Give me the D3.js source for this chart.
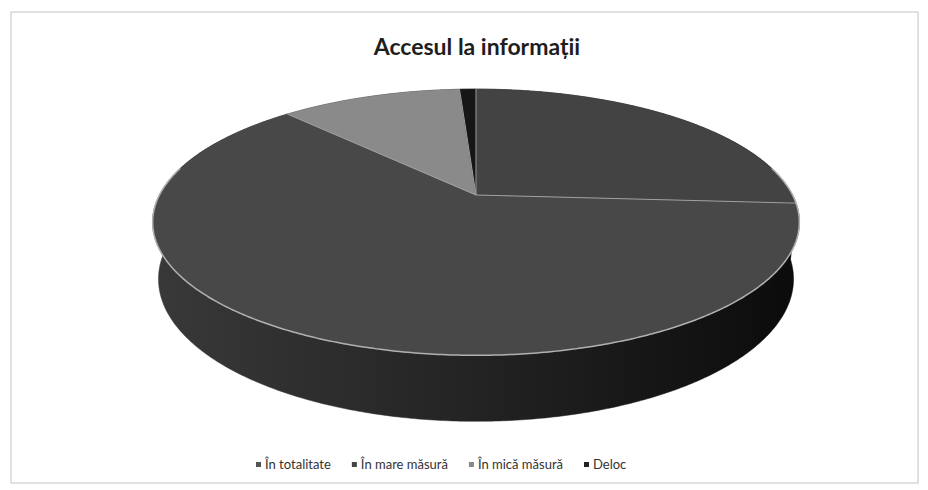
<!DOCTYPE html>
<html>
<head>
<meta charset="utf-8">
<script src="https://cdn.jsdelivr.net/npm/d3@7"></script>
<style>
body{margin:0;background:#fff;}
</style>
</head>
<body>
<div id="graf"></div>
<script>
// date (procente)
const categorii = ["În totalitate", "În mare măsură", "În mică măsură", "Deloc"];
const valori = [26, 62, 11, 1];
const titlu = "Accesul la informații";

// culori (scanare in tonuri de gri)
const culoriSus = ["#434343", "#484848", "#8a8a8a", "#161616"];
const culoriLegenda = ["#555", "#444", "#888", "#222"];

const W = 928, H = 490;
// parametri perspectiva pentru discul 3D
const CX = 476, CY = 195, F = 1418, DIST = 4.48, FI = Math.asin(0.403), GROS = 0.195;

function proiect(X, Y, Z) // proiecteaza un punct 3D pe ecran
{
   let s = Math.sin(FI), c = Math.cos(FI);
   let u = Y * c + Z * s;
   let w = DIST + Z * c - Y * s;
   return [CX + F * X / w, CY - F * u / w];
}

function punctArc(a, Y) // a = unghi in sensul acelor de ceas de la ora 12
{
   return proiect(Math.sin(a), Y, Math.cos(a));
}

function arcPuncte(a0, a1, Y)
{
   let n = Math.max(2, Math.ceil((a1 - a0) / 0.01));
   let pts = [];
   for (let i = 0; i <= n; i++) pts.push(punctArc(a0 + (a1 - a0) * i / n, Y));
   return pts;
}

const svg = d3.select("#graf").append("svg").attr("width", W).attr("height", H);

// chenarul graficului
svg.append("rect")
   .attr("x", 11).attr("y", 12)
   .attr("width", 907).attr("height", 471)
   .attr("fill", "none")
   .attr("stroke", "#c4c4c4")
   .attr("stroke-width", 1);

// titlu
svg.append("text")
   .attr("x", 477).attr("y", 55)
   .attr("text-anchor", "middle")
   .attr("font-family", "Lato, 'Open Sans', sans-serif")
   .attr("font-weight", "bold")
   .attr("font-size", 23)
   .attr("fill", "#1e1e1e")
   .text(titlu);

// gradient pentru peretele lateral
const grad = svg.append("defs").append("linearGradient")
   .attr("id", "lateral")
   .attr("gradientUnits", "userSpaceOnUse")
   .attr("x1", 150).attr("y1", 0).attr("x2", 802).attr("y2", 0);
grad.append("stop").attr("offset", 0).attr("stop-color", "#393939");
grad.append("stop").attr("offset", 0.5).attr("stop-color", "#232323");
grad.append("stop").attr("offset", 1).attr("stop-color", "#0b0b0b");

const pie = d3.pie().sort(null).value(d => d);
const felii = pie(valori);
const linie = d3.line();

// peretii laterali (desenati primii, fetele de sus ii acopera)
felii.forEach(function(d) {
   let sus = arcPuncte(d.startAngle, d.endAngle, 0);
   let jos = arcPuncte(d.startAngle, d.endAngle, -GROS).reverse();
   svg.append("path")
      .attr("d", linie(sus.concat(jos)) + "Z")
      .attr("fill", "url(#lateral)")
      .attr("stroke", "url(#lateral)")
      .attr("stroke-width", 0.5);
});

// fetele de sus
const centru = proiect(0, 0, 0);
felii.forEach(function(d, i) {
   let pts = [centru].concat(arcPuncte(d.startAngle, d.endAngle, 0));
   svg.append("path")
      .attr("d", linie(pts) + "Z")
      .attr("fill", culoriSus[i])
      .attr("stroke", culoriSus[i])
      .attr("stroke-width", 0.5);
});

// liniile dintre felii
felii.forEach(function(d) {
   let p = punctArc(d.startAngle, 0);
   svg.append("line")
      .attr("x1", centru[0]).attr("y1", centru[1])
      .attr("x2", p[0]).attr("y2", p[1])
      .attr("stroke", "#a0a0a0")
      .attr("stroke-width", 1);
});

// marginea luminoasa din fata
svg.append("path")
   .attr("d", linie(arcPuncte(Math.PI * 0.43, Math.PI * 1.57, 0)))
   .attr("fill", "none")
   .attr("stroke", "#b0b0b0")
   .attr("stroke-width", 1.5);

// legenda
let xl = 256;
const yl = 465;
categorii.forEach(function(cat, i) {
   svg.append("rect")
      .attr("x", xl).attr("y", yl - 3)
      .attr("width", 5).attr("height", 5)
      .attr("fill", culoriLegenda[i]);
   let t = svg.append("text")
      .attr("x", xl + 9).attr("y", yl + 4)
      .attr("font-family", "Lato, 'Open Sans', sans-serif")
      .attr("font-size", 13)
      .attr("fill", "#333")
      .text(cat);
   xl += 9 + t.node().getComputedTextLength() + 21;
});
</script>
</body>
</html>
